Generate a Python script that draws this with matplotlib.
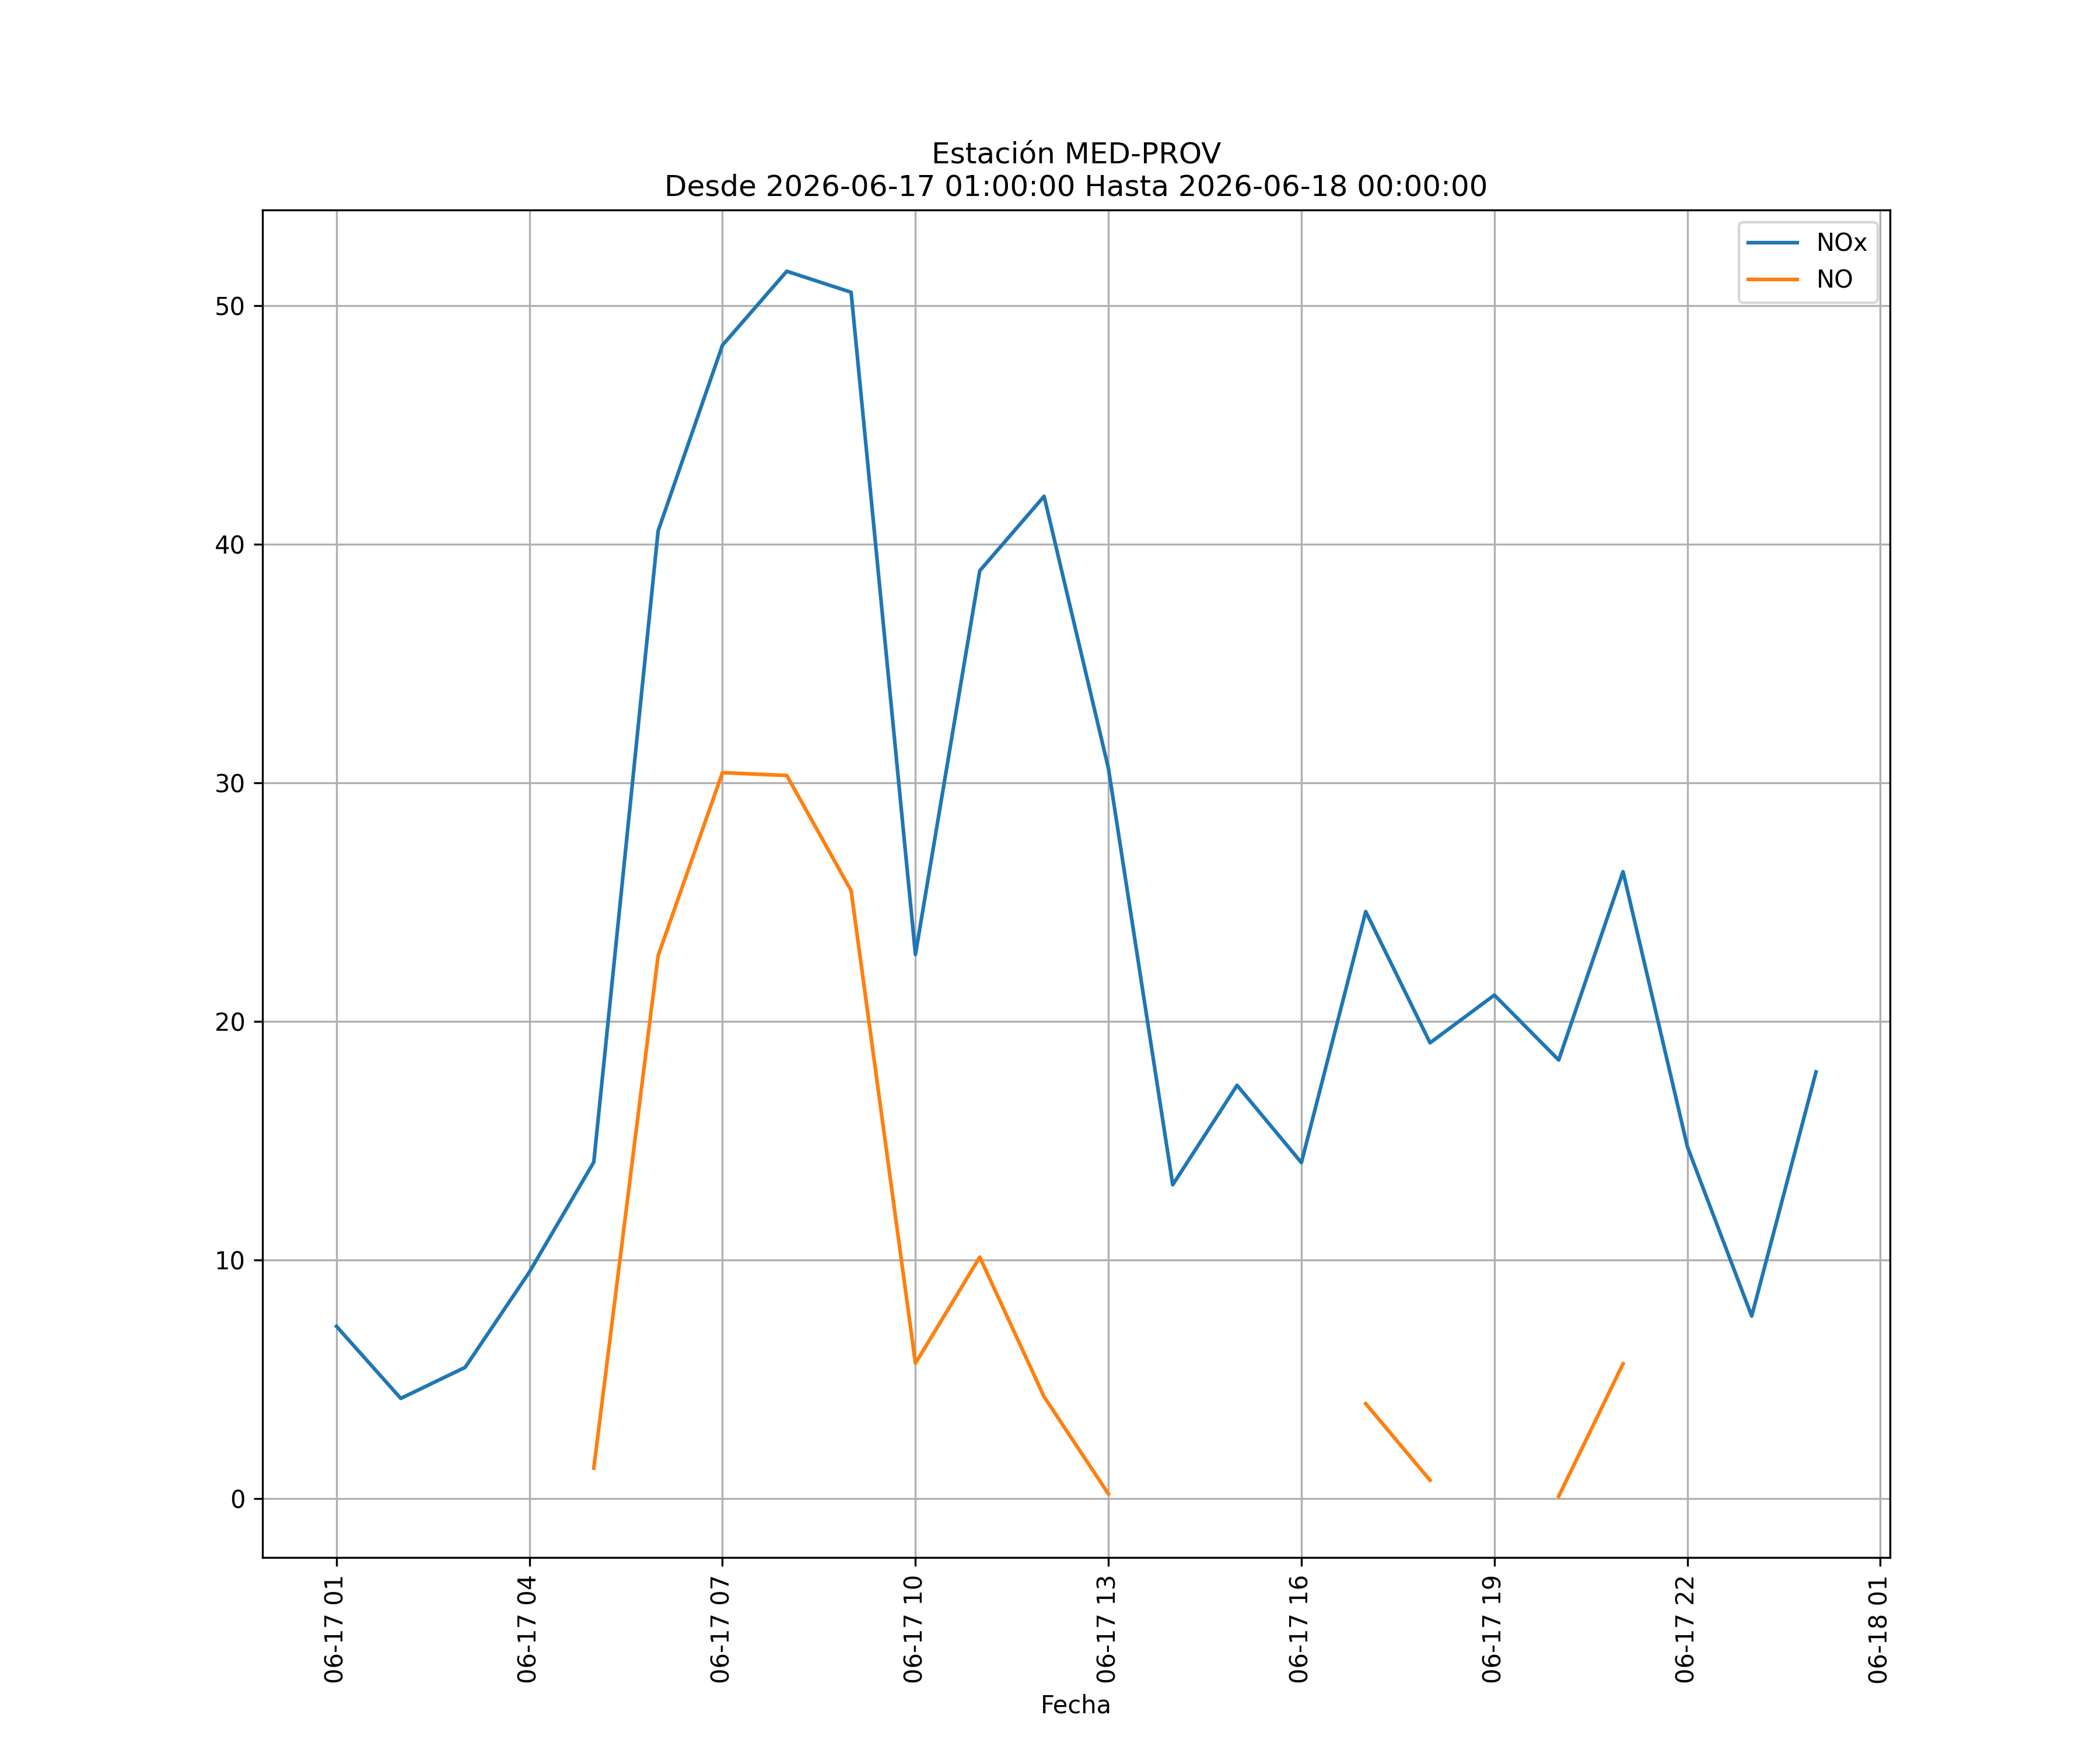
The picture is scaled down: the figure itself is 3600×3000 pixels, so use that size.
import numpy as np
import pandas as pd
import matplotlib
matplotlib.use("Agg")
import matplotlib.pyplot as plt
import matplotlib.dates as mdates

# Data (hourly, 2026-06-17 01:00 to 2026-06-18 00:00)
times = pd.date_range("2026-06-17 01:00:00", "2026-06-18 00:00:00", freq="h")
nox = [7.22, 4.2, 5.5, 9.5, 14.1, 40.55, 48.33, 51.43, 50.55, 22.8, 38.88, 42.0,
       30.6, 13.15, 17.32, 14.08, 24.6, 19.1, 21.1, 18.38, 26.27, 14.75, 7.65, 17.88]
no = [np.nan, np.nan, np.nan, np.nan, 1.28, 22.75, 30.42, 30.3, 25.48, 5.67, 10.12, 4.27,
      0.2, np.nan, np.nan, np.nan, 3.98, 0.77, np.nan, 0.1, 5.65, np.nan, np.nan, np.nan]
series_labels = ["NOx", "NO"]
title_text = "Estación MED-PROV\nDesde 2026-06-17 01:00:00 Hasta 2026-06-18 00:00:00"
xlabel_text = "Fecha"

fig, ax = plt.subplots(figsize=(12, 10), dpi=300)
ax.plot(times, nox, label=series_labels[0])
ax.plot(times, no, label=series_labels[1])
ax.set_title(title_text)
ax.set_xlabel(xlabel_text)
ax.xaxis.set_major_locator(mdates.HourLocator(byhour=range(1, 24, 3)))
ax.xaxis.set_major_formatter(mdates.DateFormatter("%m-%d %H"))
plt.setp(ax.get_xticklabels(), rotation=90)
ax.grid(True)
ax.legend(loc="upper right")
fig.savefig("out.png", dpi=300)
